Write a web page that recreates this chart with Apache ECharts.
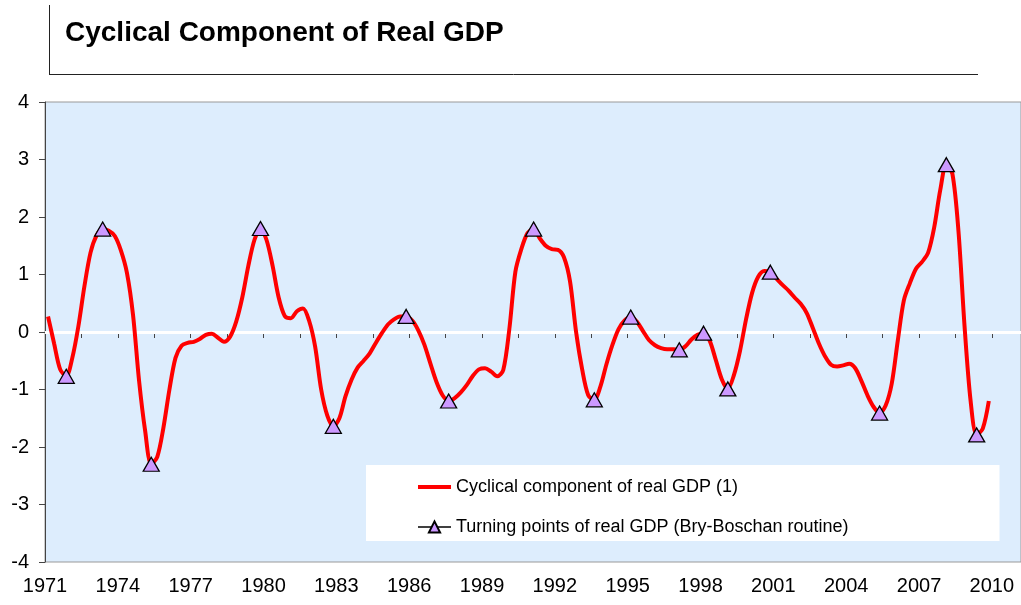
<!DOCTYPE html>
<html>
<head>
<meta charset="utf-8">
<script src="https://cdn.jsdelivr.net/npm/echarts@6/dist/echarts.min.js"></script>
<style>
html,body{margin:0;padding:0;background:#fff;}
#chart{width:1021px;height:605px;}
</style>
</head>
<body>
<div id="chart"></div>
<script>
// Quarterly data, 1971Q1 onward
const startYear = 1971;
const gdpCycle = [
  0.27, -0.2, -0.65, -0.77, -0.45, 0.1, 0.8, 1.38, 1.68, 1.79,
  1.76, 1.67, 1.42, 1.03, 0.3, -0.85, -1.72, -2.3, -2.17, -1.67,
  -1.0, -0.45, -0.24, -0.19, -0.17, -0.12, -0.05, -0.03, -0.1, -0.17,
  -0.08, 0.18, 0.6, 1.15, 1.6, 1.8, 1.6, 1.15, 0.6, 0.28,
  0.24, 0.36, 0.41, 0.2, -0.25, -1.0, -1.45, -1.64, -1.5, -1.12,
  -0.83, -0.62, -0.5, -0.37, -0.19, -0.02, 0.13, 0.22, 0.27, 0.27,
  0.2, 0.03, -0.22, -0.55, -0.87, -1.1, -1.2, -1.15, -1.05, -0.92,
  -0.76, -0.65, -0.63, -0.69, -0.77, -0.66, 0.05, 1.05, 1.45, 1.72,
  1.79, 1.63, 1.5, 1.44, 1.43, 1.3, 0.88, 0.0, -0.65, -1.1,
  -1.18, -0.95, -0.56, -0.22, 0.05, 0.2, 0.26, 0.18, 0.02, -0.14,
  -0.23, -0.28, -0.3, -0.3, -0.31, -0.25, -0.13, -0.05, -0.02, -0.15,
  -0.48, -0.82, -0.99, -0.75, -0.33, 0.22, 0.68, 0.96, 1.06, 1.04,
  0.93, 0.82, 0.72, 0.6, 0.49, 0.33, 0.07, -0.2, -0.42, -0.57,
  -0.6, -0.58, -0.55, -0.63, -0.85, -1.1, -1.3, -1.41, -1.28, -0.9,
  -0.15, 0.55, 0.85, 1.1, 1.22, 1.38, 1.82, 2.47, 2.91, 2.75,
  1.75, 0.1, -1.2, -1.79, -1.68, -1.2
];
const turningQuarters = [
  '1971Q4','1973Q2','1975Q2','1979Q4','1982Q4','1985Q4','1987Q3','1991Q1',
  '1993Q3','1995Q1','1997Q1','1998Q1','1999Q1','2000Q4','2005Q2','2008Q1','2009Q2'
];
const yTicks = [-4, -3, -2, -1, 0, 1, 2, 3, 4];
const titleText = 'Cyclical Component of Real GDP';
const seriesNames = ['Cyclical component of real GDP (1)', 'Turning points of real GDP (Bry-Boschan routine)'];

// quarter labels and x positions (mid-quarter in decimal years)
const quarters = gdpCycle.map((_, i) => (startYear + Math.floor(i / 4)) + 'Q' + (i % 4 + 1));
const qx = gdpCycle.map((_, i) => startYear + (i + 0.5) / 4);
const lineData = gdpCycle.map((v, i) => [qx[i], v]);
const turnData = gdpCycle.map((v, i) => [qx[i], turningQuarters.indexOf(quarters[i]) >= 0 ? v : null]);

const chart = echarts.init(document.getElementById('chart'), null, {renderer: 'canvas'});
const FONT = 'Liberation Sans, Arial, sans-serif';
chart.setOption({
  animation: false,
  backgroundColor: '#fff',
  textStyle: {fontFamily: FONT},
  graphic: [
    {type: 'line', z: 10, shape: {x1: 49.5, y1: 5, x2: 49.5, y2: 75}, style: {stroke: '#222', lineWidth: 1}},
    {type: 'line', z: 10, shape: {x1: 49, y1: 74.5, x2: 978, y2: 74.5}, style: {stroke: '#222', lineWidth: 1}},
    {type: 'text', z: 10, left: 65, top: 19, style: {text: titleText, font: 'bold 28px ' + FONT, fill: '#000'}}
  ],
  grid: {left: 45, right: 0, top: 102, bottom: 43, show: true, backgroundColor: '#DDEDFD', borderColor: '#999', borderWidth: 1},
  legend: {
    orient: 'vertical', left: 366, top: 465,
    backgroundColor: '#fff',
    padding: [12, 151, 4, 50],
    itemWidth: 33, itemHeight: 14, itemGap: 20,
    textStyle: {fontSize: 18, color: '#000', fontFamily: FONT, lineHeight: 20},
    data: [
      {name: seriesNames[0], itemStyle: {opacity: 0}, lineStyle: {width: 4, color: '#FF0000'}},
      {name: seriesNames[1], lineStyle: {width: 1.3, color: '#000'}}
    ]
  },
  xAxis: {
    type: 'value', min: 1971, max: 2011.2, interval: 1.5,
    axisLine: {show: true, lineStyle: {color: '#444', width: 1}},
    axisTick: {show: true, length: 6, lineStyle: {color: '#444'}},
    splitLine: {show: false},
    axisLabel: {
      fontSize: 20, color: '#000', margin: 14, fontFamily: FONT,
      showMaxLabel: false,
      formatter: function (v) {
        const r = Math.round(v);
        return (Math.abs(v - r) < 0.01 && (r - 1971) % 3 === 0) ? String(r) : '';
      }
    }
  },
  yAxis: {
    type: 'value', min: yTicks[0], max: yTicks[yTicks.length - 1], interval: 1,
    axisLine: {show: true, lineStyle: {color: '#444', width: 1}},
    axisTick: {show: true, length: 6, lineStyle: {color: '#444'}},
    splitLine: {show: false},
    axisLabel: {fontSize: 20, color: '#000', margin: 16, fontFamily: FONT}
  },
  series: [
    {
      name: seriesNames[0], type: 'line', data: lineData, z: 3,
      showSymbol: false, symbol: 'none', smooth: 0.3,
      lineStyle: {color: '#FF0000', width: 4}, itemStyle: {color: '#FF0000'},
      markLine: {
        silent: true, symbol: 'none', z: 1, label: {show: false},
        lineStyle: {color: '#fff', width: 3, type: 'solid'},
        data: [{yAxis: 0}]
      }
    },
    {
      name: seriesNames[1], type: 'line', data: turnData, z: 4,
      symbol: 'triangle', symbolSize: [16, 14], showSymbol: true, showAllSymbol: true,
      connectNulls: false,
      lineStyle: {color: '#000', width: 1},
      itemStyle: {color: '#CC99FF', borderColor: '#000', borderWidth: 1.3}
    }
  ]
});
</script>
</body>
</html>
